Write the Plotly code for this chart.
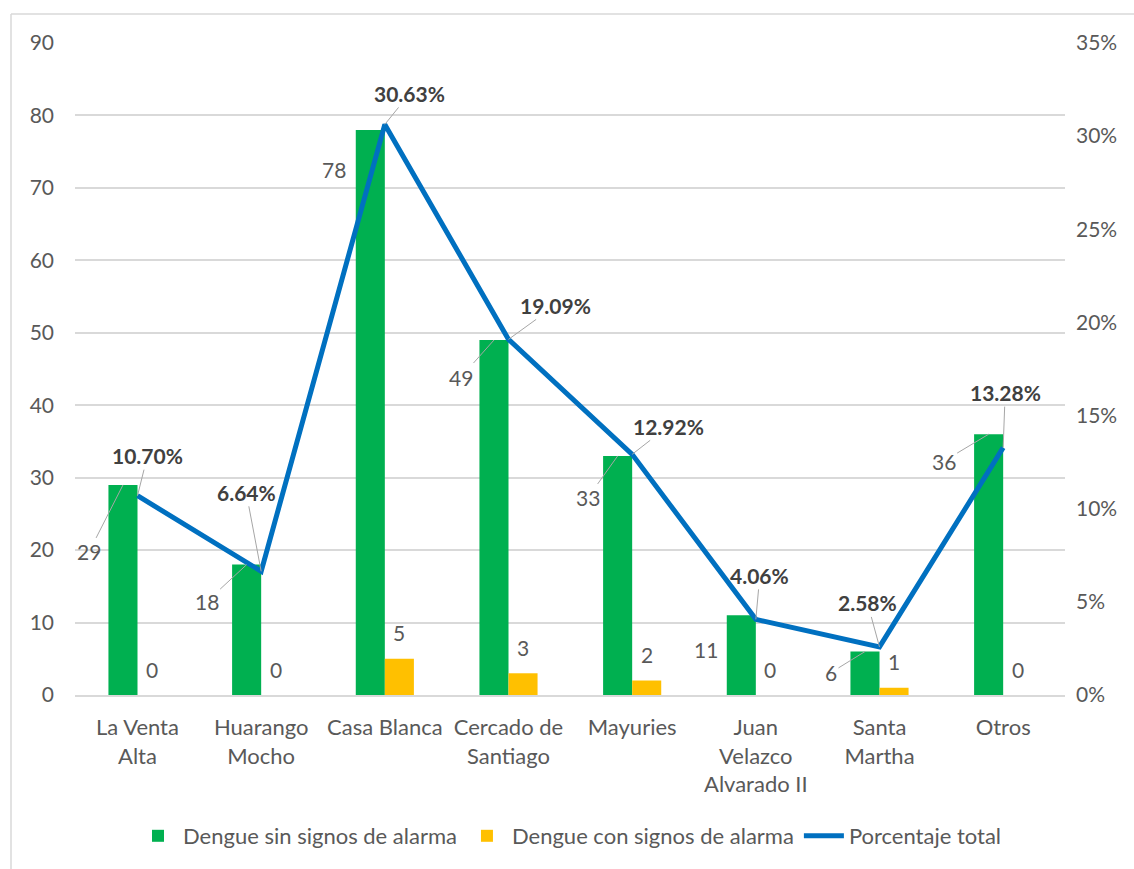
import plotly.graph_objects as go

categories = ["La Venta<br>Alta", "Huarango<br>Mocho", "Casa Blanca", "Cercado de<br>Santiago",
              "Mayuries", "Juan<br>Velazco<br>Alvarado II", "Santa<br>Martha", "Otros"]
sin_signos = [29, 18, 78, 49, 33, 11, 6, 36]
con_signos = [0, 0, 5, 3, 2, 0, 1, 0]
porcentaje = [0.1070, 0.0664, 0.3063, 0.1909, 0.1292, 0.0406, 0.0258, 0.1328]

# label offsets (pixels) for the leader-line labels
green_off = [(-34, 67, True), (-40, 37, True), (-36, 40, False), (-33, 37, True),
             (-30, 42, True), (-35, 34, False), (-34, 21, True), (-45, 27, True)]
line_off = [(10, -40), (-15, -79), (25, -31), (47, -34), (36, -28), (4, -44), (-12, -44), (2, -55)]

FONT = "Lato"
GRAY = "#595959"
GREEN = "#00B050"
YELLOW = "#FFC000"
BLUE = "#0070C0"

fig = go.Figure()
fig.add_trace(go.Bar(x=categories, y=sin_signos, name="Dengue sin signos de alarma",
                     marker=dict(color=GREEN, line=dict(width=0))))
fig.add_trace(go.Bar(x=categories, y=con_signos, name="Dengue con signos de alarma",
                     marker=dict(color=YELLOW, line=dict(width=0))))
fig.add_trace(go.Scatter(x=categories, y=porcentaje, name="Porcentaje total", mode="lines",
                         line=dict(color=BLUE, width=5), yaxis="y2"))

ann = []
for c, v, (ax, ay, arrow) in zip(categories, sin_signos, green_off):
    ann.append(dict(x=c, y=v, xref="x", yref="y", text=str(v), showarrow=True,
                    arrowhead=0, arrowwidth=1,
                    arrowcolor="#A6A6A6" if arrow else "rgba(0,0,0,0)",
                    ax=ax, ay=ay, xshift=-14.5, standoff=0,
                    font=dict(family=FONT, size=21, color=GRAY)))
for c, v in zip(categories, con_signos):
    ann.append(dict(x=c, y=v, xref="x", yref="y", text=str(v), showarrow=False,
                    xshift=14.5, yshift=26, font=dict(family=FONT, size=21, color=GRAY)))
for c, v, (ax, ay) in zip(categories, porcentaje, line_off):
    ann.append(dict(x=c, y=v, xref="x", yref="y2", text=f"<b>{v*100:.2f}%</b>", showarrow=True,
                    arrowhead=0, arrowwidth=1, arrowcolor="#A6A6A6", ax=ax, ay=ay, standoff=0,
                    font=dict(family=FONT, size=21, color="#404040")))

W, H = 1134, 869
L, R, T, B = 75, 1065, 43, 695
def px(x):
    return (x - L) / (R - L)
def py(y):
    return (B - y) / (B - T)

shapes = [
    dict(type="line", xref="paper", yref="paper", x0=px(11), x1=px(1134), y0=py(14), y1=py(14),
         line=dict(color="#D9D9D9", width=1.5)),
    dict(type="line", xref="paper", yref="paper", x0=px(11), x1=px(11), y0=py(14), y1=py(869),
         line=dict(color="#D9D9D9", width=1.5)),
]

fig.update_layout(
    width=W, height=H,
    margin=dict(l=L, r=W - R, t=T, b=H - B),
    paper_bgcolor="white", plot_bgcolor="white",
    barmode="group", bargap=0.53, bargroupgap=0,
    font=dict(family=FONT, size=20, color=GRAY),
    xaxis=dict(showgrid=False, showline=True, linecolor="#D9D9D9", linewidth=1.5,
               ticks="", ticklabelstandoff=12, tickfont=dict(family=FONT, size=22, color=GRAY)),
    yaxis=dict(range=[0, 90], dtick=10, showgrid=True, gridcolor="#D9D9D9", gridwidth=1.5,
               zeroline=False, showline=False, ticks="", ticklabelstandoff=20,
               tickfont=dict(family=FONT, size=21, color=GRAY)),
    yaxis2=dict(range=[0, 0.35], dtick=0.05, tickformat=".0%", overlaying="y", side="right",
                showgrid=False, zeroline=False, showline=False, ticks="", ticklabelstandoff=10,
                tickfont=dict(family=FONT, size=21, color=GRAY)),
    legend=dict(orientation="h", x=0.5, xanchor="center", y=py(836), yanchor="middle",
                font=dict(family=FONT, size=22, color=GRAY), traceorder="normal",
                itemwidth=40),
    annotations=ann,
    shapes=shapes,
)

fig.write_html("out.html")
